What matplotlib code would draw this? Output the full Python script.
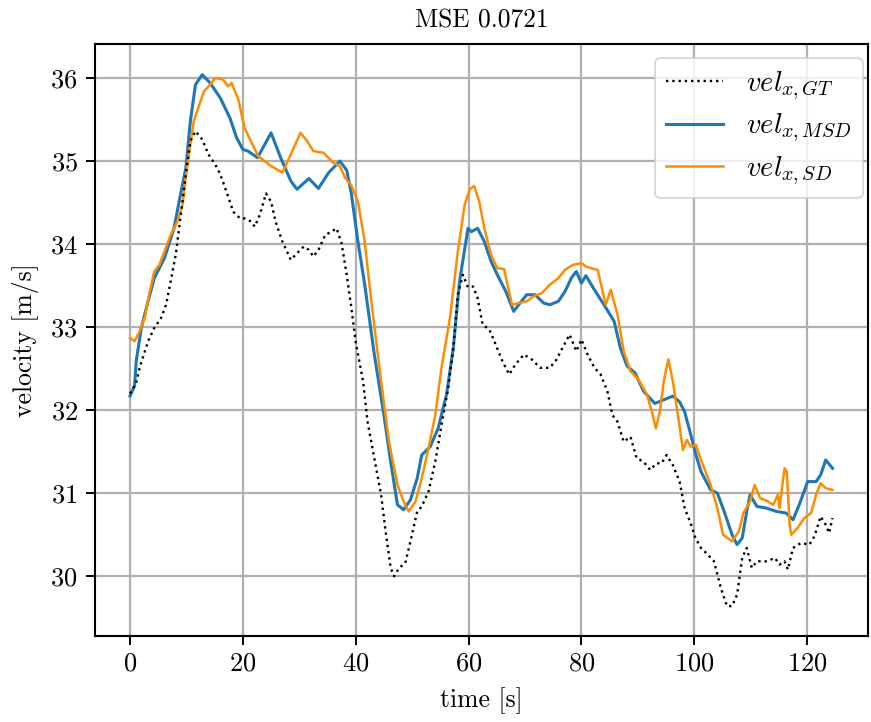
import matplotlib
matplotlib.use("Agg")
import matplotlib.pyplot as plt

plt.rcParams["font.family"] = ["cmr10", "DejaVu Serif"]
plt.rcParams["mathtext.fontset"] = "cm"
plt.rcParams["axes.formatter.use_mathtext"] = True

# Ground-truth longitudinal velocity
t_gt = [0.0, 1.1, 1.7, 3.2, 4.3, 5.5, 6.4, 7.2, 8.1, 9.0, 9.9, 10.7, 11.6, 12.8, 13.9,
        15.1, 16.0, 17.1, 18.3, 19.5, 20.3, 21.5, 22.1, 23.0, 24.1, 25.0, 25.8, 27.0,
        28.5, 29.6, 30.8, 31.7, 32.5, 33.4, 34.6, 35.7, 36.6, 37.5, 38.4, 39.2, 40.0,
        41.3, 42.1, 43.3, 44.5, 45.3, 46.2, 46.8, 47.7, 48.8, 49.7, 50.9, 51.7, 52.9,
        54.1, 55.2, 56.4, 57.3, 58.1, 59.0, 59.9, 60.8, 61.6, 62.5, 63.7, 64.8, 66.0,
        67.2, 68.3, 69.8, 71.2, 72.7, 74.4, 75.6, 76.8, 77.9, 79.1, 80.0, 81.1, 82.3,
        83.4, 84.6, 85.5, 86.4, 87.5, 88.7, 89.8, 91.0, 92.2, 93.3, 94.2, 95.1, 96.2,
        97.4, 98.3, 99.4, 100.2, 101.2, 102.4, 103.5, 104.7, 105.8, 106.7, 107.6, 108.5,
        109.3, 110.2, 111.1, 112.8, 114.3, 115.1, 116.0, 116.6, 117.5, 118.9, 120.4,
        121.3, 122.4, 123.3, 123.9, 124.5]
v_gt = [32.20, 32.33, 32.51, 32.83, 32.99, 33.11, 33.27, 33.55, 33.87, 34.35, 34.84, 35.24,
        35.36, 35.26, 35.08, 34.96, 34.84, 34.63, 34.39, 34.31, 34.31, 34.27, 34.21, 34.35,
        34.61, 34.51, 34.27, 34.03, 33.81, 33.89, 33.97, 33.93, 33.85, 33.93, 34.11, 34.15,
        34.19, 34.01, 33.63, 33.25, 32.82, 32.35, 31.86, 31.42, 30.98, 30.54, 30.10, 30.00,
        30.10, 30.16, 30.42, 30.78, 30.84, 31.02, 31.38, 31.82, 32.27, 32.75, 33.39, 33.63,
        33.48, 33.49, 33.35, 33.03, 32.97, 32.79, 32.59, 32.43, 32.55, 32.67, 32.61, 32.51,
        32.51, 32.61, 32.77, 32.91, 32.71, 32.85, 32.67, 32.51, 32.43, 32.23, 31.94, 31.86,
        31.62, 31.68, 31.42, 31.38, 31.28, 31.36, 31.36, 31.46, 31.34, 31.14, 30.82, 30.63,
        30.46, 30.34, 30.26, 30.18, 29.86, 29.64, 29.64, 29.78, 30.22, 30.34, 30.10, 30.18,
        30.18, 30.22, 30.14, 30.18, 30.08, 30.34, 30.40, 30.38, 30.48, 30.72, 30.62, 30.52,
        30.70]

# Estimate from the MSD model
t_msd = [0.0, 0.8, 1.1, 2.0, 3.2, 4.3, 6.1, 7.8, 8.7, 9.9, 10.7, 11.6, 12.8, 14.2, 16.0,
         17.7, 18.9, 20.0, 20.9, 22.6, 25.0, 26.7, 28.5, 29.6, 31.7, 33.4, 35.2, 37.2,
         38.4, 39.2, 40.4, 41.6, 43.3, 45.0, 46.2, 47.4, 48.5, 49.7, 50.9, 51.7, 53.2,
         54.6, 56.1, 57.3, 58.4, 59.9, 60.5, 61.6, 62.8, 64.0, 65.1, 66.6, 68.0, 68.9,
         70.3, 71.8, 73.3, 74.4, 75.9, 77.1, 78.2, 79.1, 80.0, 80.8, 82.3, 84.0, 85.8,
         86.9, 88.1, 89.5, 91.0, 93.0, 94.8, 96.2, 97.4, 98.3, 99.4, 100.3, 101.2, 102.9,
         104.1, 105.3, 106.7, 107.6, 108.5, 109.3, 109.9, 111.1, 112.8, 114.6, 116.3,
         117.5, 118.6, 120.1, 121.6, 122.4, 123.3, 124.5]
v_msd = [32.17, 32.29, 32.59, 32.99, 33.31, 33.59, 33.83, 34.19, 34.51, 34.92, 35.48, 35.92,
         36.04, 35.94, 35.76, 35.52, 35.28, 35.14, 35.12, 35.04, 35.34, 35.04, 34.76, 34.66,
         34.79, 34.67, 34.86, 35.00, 34.89, 34.62, 34.03, 33.51, 32.67, 31.94, 31.38, 30.86,
         30.80, 30.92, 31.18, 31.46, 31.56, 31.78, 32.19, 32.75, 33.55, 34.19, 34.15, 34.19,
         34.03, 33.79, 33.63, 33.43, 33.19, 33.27, 33.39, 33.39, 33.29, 33.27, 33.31, 33.43,
         33.59, 33.67, 33.53, 33.62, 33.45, 33.27, 33.07, 32.75, 32.53, 32.45, 32.23, 32.08,
         32.13, 32.17, 32.10, 31.98, 31.70, 31.46, 31.26, 31.04, 31.00, 30.78, 30.50, 30.38,
         30.46, 30.78, 30.98, 30.84, 30.82, 30.78, 30.76, 30.68, 30.86, 31.14, 31.14, 31.22,
         31.40, 31.30]

# Estimate from the SD model
t_sd = [0.0, 0.8, 1.7, 2.6, 3.5, 4.3, 5.2, 6.1, 7.2, 8.4, 9.3, 10.1, 11.3, 13.1, 14.2,
        15.1, 16.5, 17.4, 18.0, 19.2, 20.3, 22.7, 25.0, 27.0, 28.5, 30.2, 31.4, 32.5,
        34.3, 36.0, 37.2, 38.1, 39.2, 40.4, 41.6, 42.7, 44.5, 45.9, 47.4, 48.5, 49.4,
        50.6, 51.7, 52.9, 54.1, 55.2, 56.7, 58.1, 59.3, 60.2, 61.0, 61.9, 62.8, 64.0,
        65.1, 66.3, 66.9, 67.7, 68.9, 70.3, 71.5, 73.0, 74.4, 75.9, 77.1, 78.5, 80.0,
        80.8, 81.7, 82.9, 84.3, 85.2, 86.4, 87.5, 88.7, 90.1, 91.6, 92.5, 93.2, 93.9,
        94.6, 95.4, 96.2, 97.1, 98.0, 98.7, 99.4, 100.3, 101.2, 102.9, 104.1, 105.1,
        106.7, 107.9, 108.7, 109.9, 110.7, 111.7, 112.8, 114.0, 114.8, 115.1, 116.0,
        116.4, 116.9, 117.2, 118.3, 119.5, 120.7, 121.6, 122.4, 123.3, 124.5]
v_sd = [32.87, 32.83, 32.95, 33.11, 33.43, 33.67, 33.75, 33.91, 34.11, 34.27, 34.47, 34.92,
        35.48, 35.84, 35.92, 36.00, 35.98, 35.90, 35.94, 35.74, 35.40, 35.06, 34.94, 34.86,
        35.08, 35.34, 35.24, 35.12, 35.10, 34.98, 34.94, 34.80, 34.71, 34.51, 34.03, 33.35,
        32.35, 31.62, 31.10, 30.90, 30.78, 30.90, 31.18, 31.54, 31.94, 32.51, 33.11, 33.91,
        34.47, 34.66, 34.70, 34.51, 34.19, 33.87, 33.71, 33.70, 33.51, 33.27, 33.29, 33.31,
        33.37, 33.41, 33.51, 33.59, 33.69, 33.75, 33.77, 33.73, 33.71, 33.69, 33.27, 33.45,
        33.15, 32.71, 32.47, 32.37, 32.19, 31.98, 31.78, 31.98, 32.35, 32.61, 32.35, 31.94,
        31.52, 31.64, 31.56, 31.58, 31.40, 31.10, 30.82, 30.50, 30.42, 30.54, 30.76, 30.90,
        31.10, 30.94, 30.91, 30.86, 30.98, 30.82, 31.30, 31.26, 30.62, 30.50, 30.58, 30.70,
        30.76, 30.98, 31.12, 31.06, 31.04]

mse_text = "MSE 0.0721"

fig = plt.figure(figsize=(8.71, 7.22), dpi=100)
ax = fig.add_axes([0.1091, 0.1191, 0.8875, 0.8200])

ax.plot(t_gt, v_gt, color="black", linestyle=":", linewidth=1.7,
        label=r"$vel_{x,GT}$", zorder=3)
ax.plot(t_msd, v_msd, color="#1f77b4", linewidth=2.2,
        label=r"$vel_{x,MSD}$", zorder=2)
ax.plot(t_sd, v_sd, color="#ff8c00", linewidth=1.8,
        label=r"$vel_{x,SD}$", zorder=2.5)

ax.set_xticks([0, 20, 40, 60, 80, 100, 120])
ax.set_yticks([30, 31, 32, 33, 34, 35, 36])
ax.set_ylim(29.28, 36.41)
ax.set_xlim(-6.2, 130.8)
ax.grid(True, color="#b0b0b0", linewidth=1.6)
ax.set_axisbelow(True)

for sp in ax.spines.values():
    sp.set_linewidth(1.5)
    sp.set_color("black")
ax.tick_params(axis="both", labelsize=19, length=6.5, width=1.4, color="black")
ax.tick_params(axis="y", pad=6)
ax.tick_params(axis="x", pad=5)

ax.set_title(mse_text, fontsize=18.3, pad=12)
ax.set_xlabel("time [s]", fontsize=18.5, labelpad=8)
ax.set_ylabel("velocity [m/s]", fontsize=18.5, labelpad=8)

leg = ax.legend(loc="upper right", bbox_to_anchor=(0.9935, 0.9764),
                borderaxespad=0.0, fontsize=20.5, framealpha=0.8,
                edgecolor="#cccccc", fancybox=True, handlelength=2.0,
                borderpad=0.4, labelspacing=0.35, handletextpad=0.8)
leg.get_frame().set_linewidth(1.3)

fig.savefig("out.png", dpi=100)
